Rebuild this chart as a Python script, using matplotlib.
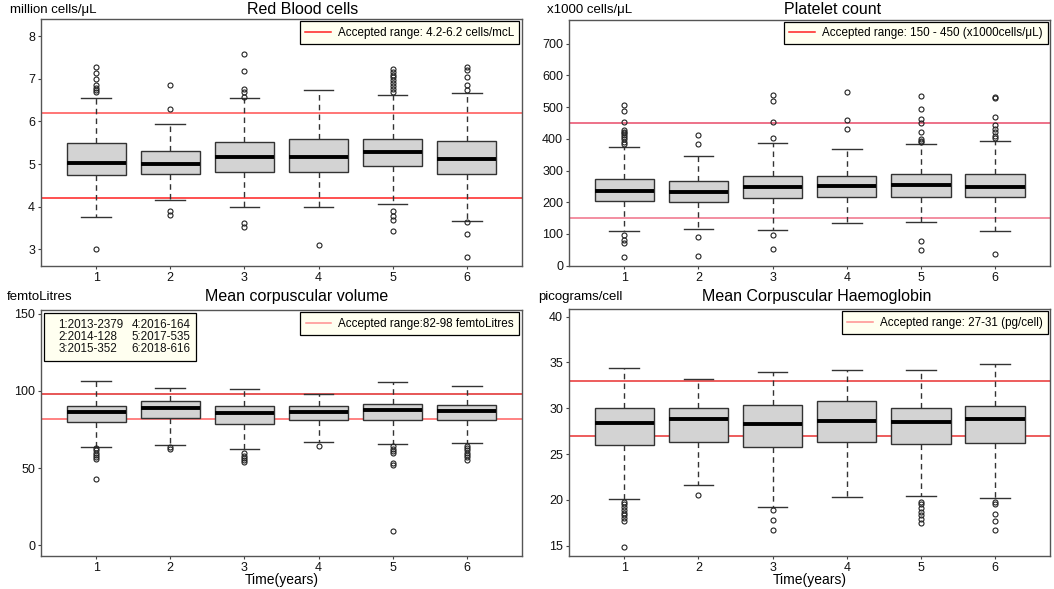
import matplotlib
matplotlib.use("Agg")
import matplotlib.pyplot as plt
from matplotlib.lines import Line2D

plt.rcParams['font.family'] = ['Liberation Sans', 'DejaVu Sans']

years = [1, 2, 3, 4, 5, 6]
year_labels = ["1", "2", "3", "4", "5", "6"]

# Red blood cells (million cells/uL)
rbc_q1 = [4.75, 4.78, 4.81, 4.81, 4.96, 4.78]
rbc_med = [5.03, 5.00, 5.16, 5.16, 5.28, 5.12]
rbc_q3 = [5.49, 5.31, 5.51, 5.60, 5.60, 5.54]
rbc_lo = [3.77, 4.15, 4.00, 4.00, 4.06, 3.67]
rbc_hi = [6.56, 5.94, 6.54, 6.74, 6.62, 6.66]
rbc_out = [[7.28, 7.13, 6.99, 6.85, 6.78, 6.73, 6.68, 3.00],
           [6.85, 6.28, 3.89, 3.80],
           [7.59, 7.19, 6.75, 6.70, 6.58, 3.61, 3.53],
           [3.10],
           [7.24, 7.16, 7.09, 7.05, 6.98, 6.90, 6.82, 6.75, 6.70, 3.89, 3.79, 3.70, 3.43],
           [7.28, 7.20, 7.05, 6.85, 6.73, 3.65, 3.36, 2.83]]
rbc_ref = [4.2, 6.2]

# Platelet count (x1000 cells/uL)
plt_q1 = [205, 202, 212, 217, 218, 216]
plt_med = [236, 232, 248, 252, 255, 247]
plt_q3 = [272, 268, 283, 282, 288, 288]
plt_lo = [108, 116, 113, 133, 138, 108]
plt_hi = [373, 346, 388, 368, 382, 393]
plt_out = [[505, 488, 452, 428, 422, 418, 412, 405, 398, 390, 383, 98, 82, 72, 28],
           [413, 385, 90, 30],
           [538, 518, 453, 403, 97, 52],
           [548, 460, 432],
           [535, 495, 463, 450, 420, 398, 393, 390, 78, 50],
           [532, 528, 468, 445, 432, 420, 410, 402, 38]]
plt_ref = [150, 450]

# Mean corpuscular volume (femtoLitres)
mcv_q1 = [79.7, 82.3, 78.8, 81.2, 81.2, 81.2]
mcv_med = [86.2, 89.2, 85.5, 86.4, 87.5, 87.0]
mcv_q3 = [90.5, 93.3, 90.5, 90.5, 91.8, 91.1]
mcv_lo = [63.9, 65.0, 62.2, 66.7, 65.6, 66.1]
mcv_hi = [106.5, 101.7, 101.3, 97.8, 106.0, 103.4]
mcv_out = [[63.0, 61.5, 60.0, 58.5, 57.0, 56.0, 43.0],
           [63.5, 62.5],
           [60.0, 58.0, 56.5, 55.0, 54.0],
           [64.5],
           [64.0, 62.5, 61.0, 59.5, 53.5, 52.0, 9.0],
           [64.5, 63.0, 61.5, 60.0, 58.5, 57.0, 55.5]]
mcv_ref = [82, 98]

# Mean corpuscular haemoglobin (picograms/cell)
mch_q1 = [26.0, 26.3, 25.8, 26.3, 26.1, 26.2]
mch_med = [28.4, 28.8, 28.3, 28.6, 28.5, 28.8]
mch_q3 = [30.0, 30.0, 30.4, 30.8, 30.0, 30.3]
mch_lo = [20.07, 21.6, 19.2, 20.3, 20.4, 20.2]
mch_hi = [34.4, 33.2, 34.0, 34.2, 34.2, 34.8]
mch_out = [[19.8, 19.5, 19.2, 18.9, 18.6, 18.3, 18.0, 17.7, 14.85],
           [20.5],
           [18.9, 17.8, 16.7],
           [],
           [19.8, 19.5, 19.1, 18.7, 18.3, 17.9, 17.5],
           [19.8, 19.5, 18.5, 17.7, 16.7]]
mch_ref = [27, 33]

year_counts = ["1:2013-2379", "2:2014-128", "3:2015-352",
               "4:2016-164", "5:2017-535", "6:2018-616"]

W, H = 1054, 589
fig = plt.figure(figsize=(W / 100, H / 100), dpi=100)


def rect(l, r, t, b):
    return [l / W, 1 - b / H, (r - l) / W, (b - t) / H]


EDGE = '#333333'


def panel(pos, q1, med, q3, lo, hi, out, ref, ylim, yticks, legtext,
          refcols, legcol):
    ax = fig.add_axes(pos)
    stats = []
    for i in range(len(years)):
        stats.append(dict(med=med[i], q1=q1[i], q3=q3[i], whislo=lo[i],
                          whishi=hi[i], fliers=out[i]))
    for y, c in zip(ref, refcols):
        ax.axhline(y, color=c, lw=1.1, zorder=1)
    ax.bxp(stats, positions=years, widths=0.8, capwidths=0.4,
           patch_artist=True, showfliers=True, manage_ticks=False,
           boxprops=dict(facecolor='#d3d3d3', edgecolor=EDGE, lw=1.0),
           medianprops=dict(color='black', lw=2.8, solid_capstyle='butt'),
           whiskerprops=dict(color=EDGE, lw=1.0, linestyle=(0, (4, 3))),
           capprops=dict(color=EDGE, lw=1.0),
           flierprops=dict(marker='o', markerfacecolor='none',
                           markeredgecolor='#222222', markersize=3.6,
                           markeredgewidth=0.8))
    ax.set_xlim(0.26, 6.74)
    ax.set_ylim(*ylim)
    ax.set_xticks(years)
    ax.set_xticklabels(year_labels)
    ax.set_yticks(yticks)
    ax.tick_params(axis='both', labelsize=9, length=2.5, width=0.8,
                   colors='#444444', labelcolor='#111111', pad=2)
    for s in ax.spines.values():
        s.set_color('#555555')
        s.set_linewidth(1.0)
    leg = ax.legend([Line2D([], [], color=legcol, lw=1.1)], [legtext],
                    loc='upper right', fontsize=8.4, handlelength=2.2,
                    borderaxespad=0.2, fancybox=False, framealpha=1,
                    facecolor='#fffff0', edgecolor='black',
                    borderpad=0.45, handletextpad=0.6)
    leg.get_frame().set_linewidth(0.9)
    return ax


ax1 = panel(rect(41.3, 521.6, 19, 265.7), rbc_q1, rbc_med, rbc_q3, rbc_lo,
            rbc_hi, rbc_out, rbc_ref, (2.62, 8.4), [3, 4, 5, 6, 7, 8],
            "Accepted range: 4.2-6.2 cells/mcL", ['#ff2020', '#ff5050'],
            '#ff2020')
ax2 = panel(rect(569.3, 1050, 19.5, 266), plt_q1, plt_med, plt_q3, plt_lo,
            plt_hi, plt_out, plt_ref, (-1, 776), list(range(0, 701, 100)),
            "Accepted range: 150 - 450 (x1000cells/μL)",
            ['#f07088', '#e84a68'], '#ff2020')
ax3 = panel(rect(41.3, 521.6, 310, 556), mcv_q1, mcv_med, mcv_q3, mcv_lo,
            mcv_hi, mcv_out, mcv_ref, (-7, 152.5), [0, 50, 100, 150],
            "Accepted range:82-98 femtoLitres", ['#ff6060', '#e02828'],
            '#ff9090')
ax4 = panel(rect(569.3, 1050, 309, 556), mch_q1, mch_med, mch_q3, mch_lo,
            mch_hi, mch_out, mch_ref, (13.87, 40.84), [15, 20, 25, 30, 35, 40],
            "Accepted range: 27-31 (pg/cell)", ['#e83030', '#e83030'],
            '#ff9090')

# year count box in MCV panel
leg1 = ax3.get_legend()
handles = [Line2D([], [], linestyle='none') for _ in year_counts]
leg2 = ax3.legend(handles, year_counts, ncol=2, loc='upper left',
                  fontsize=8.4, handlelength=0, handletextpad=0.7,
                  columnspacing=0.0, labelspacing=0.0, borderpad=0.5,
                  borderaxespad=0.25, fancybox=False, framealpha=1,
                  facecolor='#fffff0', edgecolor='black')
leg2.get_frame().set_linewidth(0.9)
for t in leg2.get_texts():
    t.set_color('#111111')
ax3.add_artist(leg1)

for ax in (ax3, ax4):
    ax.set_xlabel("Time(years)", fontsize=10, labelpad=-1)

# titles and unit labels
fig.text(303 / W, 1 - 9 / H, "Red Blood cells", ha='center', va='center',
         fontsize=11.5)
fig.text(833 / W, 1 - 9 / H, "Platelet count", ha='center', va='center',
         fontsize=11.5)
fig.text(297 / W, 1 - 297 / H, "Mean corpuscular volume", ha='center',
         va='center', fontsize=11.5)
fig.text(817 / W, 1 - 297 / H, "Mean Corpuscular Haemoglobin", ha='center',
         va='center', fontsize=11.5)
fig.text(10 / W, 1 - 10 / H, "million cells/μL", ha='left', va='center',
         fontsize=9.5)
fig.text(547 / W, 1 - 10 / H, "x1000 cells/μL", ha='left', va='center',
         fontsize=9.5)
fig.text(7 / W, 1 - 297 / H, "femtoLitres", ha='left', va='center',
         fontsize=9.5)
fig.text(538 / W, 1 - 297 / H, "picograms/cell", ha='left', va='center',
         fontsize=9.5)

fig.savefig("out.png", dpi=100)
